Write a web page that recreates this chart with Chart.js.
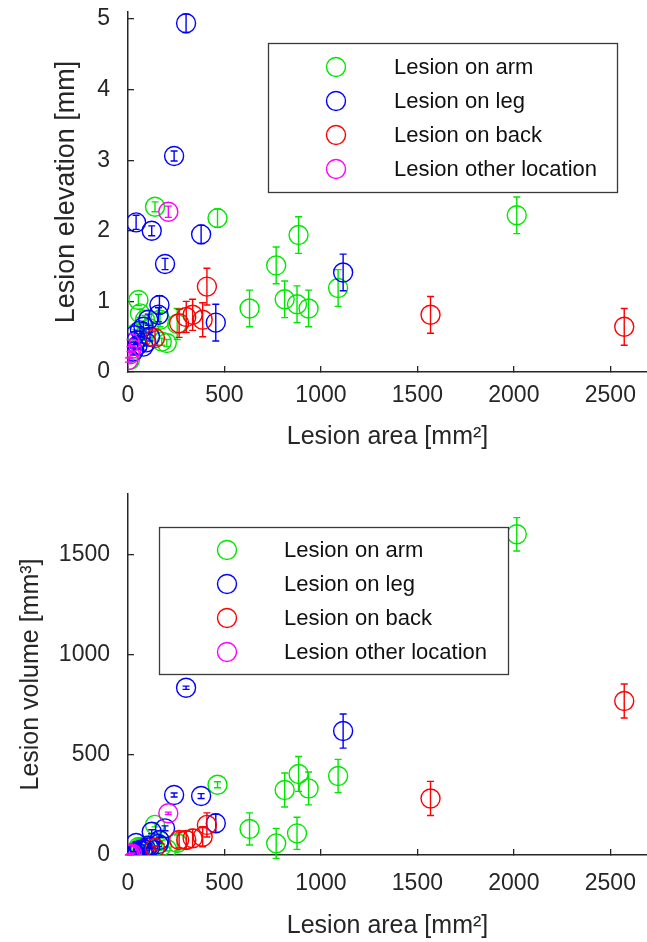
<!DOCTYPE html>
<html>
<head>
<meta charset="utf-8">
<script src="https://cdn.jsdelivr.net/npm/chart.js@4.4.1/dist/chart.umd.min.js"></script>
<style>
  html, body { margin: 0; padding: 0; background: #fff; }
  canvas { display: block; }
</style>
</head>
<body>
<canvas id="elev" width="647" height="460"></canvas>
<canvas id="vol" width="647" height="482"></canvas>
<script>
// lesions per location: area [mm2], elevation [mm] (+- err), volume [mm3] (+- err)
const armArea    = [630, 768, 884, 812, 876, 936, 1089, 2015, 464, 140, 54, 255, 175, 201, 166, 62, 88, 28, 10, 110, 40, 75];
const armElev    = [0.90, 1.51, 1.94, 1.03, 0.96, 0.90, 1.19, 2.22, 2.18, 2.34, 1.02, 0.68, 0.43, 0.41, 0.74, 0.83, 0.74, 0.31, 0.17, 0.62, 0.55, 0.50];
const armElevErr = [0.26, 0.26, 0.26, 0.26, 0.26, 0.26, 0.26, 0.26, 0.13, 0.07, 0.08, 0.22, 0.05, 0.05, 0.10, 0.06, 0.06, 0.04, 0.03, 0.06, 0.05, 0.05];
const armVol     = [130, 58, 404, 324, 108, 332, 394, 1599, 350, 150, 40, 60, 45, 30, 70, 35, 45, 8, 2, 50, 20, 25];
const armVolErr  = [80, 75, 87, 85, 80, 82, 83, 83, 15, 10, 8, 40, 10, 10, 15, 6, 8, 3, 1, 8, 4, 5];

const legArea    = [301, 239, 42, 123, 379, 192, 163, 158, 455, 1115, 62, 45, 80, 28, 114, 105, 80, 50, 95, 35];
const legElev    = [4.94, 3.06, 2.12, 2.00, 1.95, 1.53, 0.95, 0.81, 0.70, 1.41, 0.59, 0.45, 0.36, 0.29, 0.50, 0.74, 0.64, 0.38, 0.42, 0.52];
const legElevErr = [0.13, 0.07, 0.10, 0.07, 0.13, 0.08, 0.13, 0.10, 0.26, 0.26, 0.05, 0.05, 0.05, 0.05, 0.06, 0.08, 0.06, 0.04, 0.05, 0.05];
const legVol     = [834, 299, 60, 116, 294, 133, 75, 55, 158, 618, 25, 15, 18, 6, 38, 45, 30, 12, 28, 10];
const legVolErr  = [8, 10, 5, 10, 12, 12, 15, 12, 45, 85, 4, 3, 4, 2, 6, 8, 5, 3, 5, 3];

const backArea    = [409, 265, 302, 335, 387, 1568, 2572, 140];
const backElev    = [1.21, 0.69, 0.78, 0.81, 0.74, 0.81, 0.64, 0.48];
const backElevErr = [0.26, 0.20, 0.22, 0.22, 0.24, 0.26, 0.26, 0.10];
const backVol     = [150, 75, 75, 83, 91, 282, 768, 35];
const backVolErr  = [60, 40, 45, 45, 50, 85, 85, 10];

const otherArea    = [209, 10, 2, 10, 20];
const otherElev    = [2.27, 0.41, 0.17, 0.25, 0.33];
const otherElevErr = [0.08, 0.05, 0.03, 0.04, 0.04];
const otherVol     = [208, 5, 1, 3, 8];
const otherVolErr  = [6, 2, 1, 1, 2];

const legendLabels = ['Lesion on arm', 'Lesion on leg', 'Lesion on back', 'Lesion other location'];
const seriesColors = ['#00e600', '#0000ff', '#ff0000', '#ff00ff'];

const areaTicks = [0, 500, 1000, 1500, 2000, 2500];
const elevTicks = [0, 1, 2, 3, 4, 5];
const volTicks = [0, 500, 1000, 1500];

const FONT = '"Liberation Sans", Arial, sans-serif';
const INK = '#262626';

function pts(xs, ys) {
  return xs.map((x, i) => ({ x: x, y: ys[i] }));
}

function makeDatasets(useVol) {
  const sets = [
    [armArea, useVol ? armVol : armElev, useVol ? armVolErr : armElevErr],
    [legArea, useVol ? legVol : legElev, useVol ? legVolErr : legElevErr],
    [backArea, useVol ? backVol : backElev, useVol ? backVolErr : backElevErr],
    [otherArea, useVol ? otherVol : otherElev, useVol ? otherVolErr : otherElevErr]
  ];
  return sets.map((s, i) => ({
    label: legendLabels[i],
    data: pts(s[0], s[1]),
    errors: s[2],
    borderColor: seriesColors[i],
    backgroundColor: 'rgba(0,0,0,0)',
    pointRadius: 9.5,
    pointHoverRadius: 9.5,
    pointBorderWidth: 1.4,
    order: 4 - i
  }));
}

// vertical error bars with small caps, drawn right after each dataset
const errorBars = {
  id: 'errorBars',
  afterDatasetDraw(chart, args) {
    const ds = chart.data.datasets[args.index];
    if (!ds.errors) return;
    const ctx = chart.ctx;
    const xs = chart.scales.x, ys = chart.scales.y;
    ctx.save();
    ctx.strokeStyle = ds.borderColor;
    ctx.lineWidth = 1.4;
    ds.data.forEach((p, j) => {
      const e = ds.errors[j];
      const x = xs.getPixelForValue(p.x);
      const y1 = ys.getPixelForValue(p.y - e);
      const y2 = ys.getPixelForValue(p.y + e);
      ctx.beginPath();
      ctx.moveTo(x, y1); ctx.lineTo(x, y2);
      ctx.moveTo(x - 3.5, y1); ctx.lineTo(x + 3.5, y1);
      ctx.moveTo(x - 3.5, y2); ctx.lineTo(x + 3.5, y2);
      ctx.stroke();
    });
    ctx.restore();
  }
};

// matlab style legend box inside the axes
const boxLegend = {
  id: 'boxLegend',
  afterDraw(chart, args, opts) {
    const ctx = chart.ctx;
    ctx.save();
    ctx.fillStyle = '#fff';
    ctx.fillRect(opts.x, opts.y, opts.w, opts.h);
    ctx.strokeStyle = '#3a3a3a';
    ctx.lineWidth = 1.3;
    ctx.strokeRect(opts.x + 0.5, opts.y + 0.5, opts.w, opts.h);
    ctx.font = '22px ' + FONT;
    ctx.textBaseline = 'middle';
    legendLabels.forEach((lab, i) => {
      const cy = opts.y + opts.first + i * opts.step;
      ctx.beginPath();
      ctx.arc(opts.mx, cy, 9.5, 0, 2 * Math.PI);
      ctx.strokeStyle = seriesColors[i];
      ctx.lineWidth = 1.4;
      ctx.stroke();
      ctx.fillStyle = '#111';
      ctx.fillText(lab, opts.tx, cy + 1);
    });
    ctx.restore();
  }
};

function noPad(s) {
  s.paddingTop = 0; s.paddingBottom = 0; s.paddingLeft = 0; s.paddingRight = 0;
}

function makeChart(id, cfg) {
  return new Chart(document.getElementById(id), {
    type: 'scatter',
    data: { datasets: makeDatasets(cfg.useVol) },
    plugins: [errorBars, boxLegend],
    options: {
      responsive: false,
      animation: false,
      events: [],
      layout: { autoPadding: false, padding: { top: cfg.top, right: 0, left: 0, bottom: 0 } },
      plugins: {
        legend: { display: false },
        tooltip: { enabled: false },
        boxLegend: cfg.legend
      },
      scales: {
        x: {
          type: 'linear',
          min: 0,
          max: 2690,
          afterBuildTicks: s => { s.ticks = areaTicks.map(v => ({ value: v })); },
          afterFit: s => { s.height = cfg.xHeight; noPad(s); },
          grid: { drawOnChartArea: false, drawTicks: true, tickLength: -6, color: INK, lineWidth: 1.3 },
          border: { color: INK, width: 1.5 },
          ticks: { font: { family: FONT, size: 23 }, color: INK, padding: cfg.xTickPad, maxRotation: 0, callback: v => String(v) },
          title: {
            display: true,
            text: 'Lesion area [mm²]',
            font: { family: FONT, size: 25 },
            color: INK,
            padding: { top: 0, bottom: cfg.xTitlePad }
          }
        },
        y: {
          type: 'linear',
          min: 0,
          max: cfg.yMax,
          afterBuildTicks: s => { s.ticks = cfg.yTicks.map(v => ({ value: v })); },
          afterFit: s => { s.width = 128; noPad(s); },
          grid: { drawOnChartArea: false, drawTicks: true, tickLength: -6, color: INK, lineWidth: 1.3 },
          border: { color: INK, width: 1.5 },
          ticks: { font: { family: FONT, size: 23 }, color: INK, padding: 24, callback: v => String(v) },
          title: {
            display: true,
            text: cfg.yTitle,
            font: { family: FONT, size: cfg.yTitleSize },
            color: INK,
            padding: { top: cfg.yTitlePad, bottom: 0 }
          }
        }
      }
    }
  });
}

makeChart('elev', {
  useVol: false,
  top: 12,
  xHeight: 88,
  xTickPad: 16,
  xTitlePad: 8,
  yMax: 5.1,
  yTicks: elevTicks,
  yTitle: 'Lesion elevation [mm]',
  yTitleSize: 27,
  yTitlePad: 50,
  legend: { x: 268, y: 43, w: 349, h: 149, mx: 336, tx: 394, first: 24, step: 34 }
});

makeChart('vol', {
  useVol: true,
  top: 34,
  xHeight: 87,
  xTickPad: 21,
  xTitlePad: 1,
  yMax: 1800,
  yTicks: volTicks,
  yTitle: 'Lesion volume [mm³]',
  yTitleSize: 25,
  yTitlePad: 16,
  legend: { x: 159, y: 67, w: 349, h: 147, mx: 227, tx: 284, first: 23, step: 34 }
});
</script>
</body>
</html>
